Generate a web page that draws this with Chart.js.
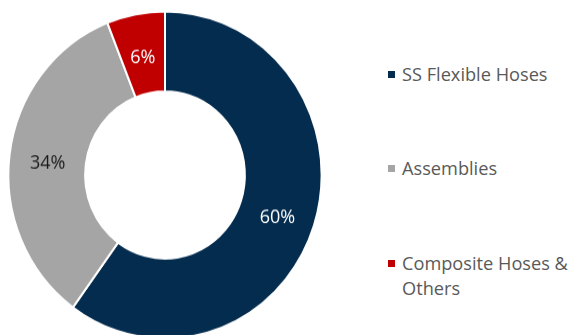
<!DOCTYPE html>
<html>
<head>
<meta charset="utf-8">
<script src="https://cdn.jsdelivr.net/npm/chart.js@4.4.0/dist/chart.umd.min.js"></script>
<style>
  html, body { margin: 0; padding: 0; background: #fff; }
  body { width: 571px; height: 335px; overflow: hidden; position: relative; font-family: "Open Sans", sans-serif; }
  #pie-wrap { position: absolute; left: 0; top: 10px; width: 330px; height: 330px; transform: scaleY(1.045); transform-origin: 50% 50%; }
  #legend { position: absolute; left: 388px; top: 61.5px; width: 183px; margin: 0; padding: 0; list-style: none; }
  #legend li { position: relative; padding-left: 14px; font-size: 18.2px; line-height: 25px; color: #595959; margin-bottom: 69.5px; width: 169px; }
  #legend li span { position: absolute; left: 0; top: 9px; width: 7px; height: 7px; }
</style>
</head>
<body>
<div id="pie-wrap"><canvas id="mycanvas"></canvas></div>
<ul id="legend"></ul>
<script>
var segments = ['SS Flexible Hoses', 'Assemblies', 'Composite Hoses & Others'];
var shares = [60, 34, 6];
var colours = ['#042c4f', '#a5a5a5', '#c00000'];
var labelColours = ['#ffffff', '#1a1a1a', '#ffffff'];

// percentage labels in the middle of each ring segment
var sliceLabels = {
	id: 'sliceLabels',
	afterDatasetsDraw: function(chart) {
		var ctx = chart.ctx;
		var meta = chart.getDatasetMeta(0);
		ctx.save();
		ctx.font = '18px "Open Sans", sans-serif';
		ctx.textAlign = 'center';
		ctx.textBaseline = 'middle';
		meta.data.forEach(function(arc, i) {
			var pos = arc.tooltipPosition();
			ctx.fillStyle = labelColours[i];
			ctx.fillText(shares[i] + '%', pos.x, pos.y + 4);
		});
		ctx.restore();
	}
};

var ctx = document.getElementById('mycanvas');

var pieChart = new Chart(ctx, {
	type: 'doughnut',
	data: {
		labels: segments,
		datasets: [{
			data: shares,
			backgroundColor: colours,
			borderColor: '#ffffff',
			borderWidth: 2
		}]
	},
	options: {
		responsive: true,
		maintainAspectRatio: false,
		animation: false,
		radius: '95.5%',
		cutout: '51%',
		plugins: {
			legend: { display: false },
			tooltip: { enabled: false }
		}
	},
	plugins: [sliceLabels]
});

var legend = document.getElementById('legend');
for (var i in segments) {
	var li = document.createElement('li');
	var box = document.createElement('span');
	box.style.background = colours[i];
	li.appendChild(box);
	li.appendChild(document.createTextNode(segments[i]));
	legend.appendChild(li);
}
</script>
</body>
</html>
